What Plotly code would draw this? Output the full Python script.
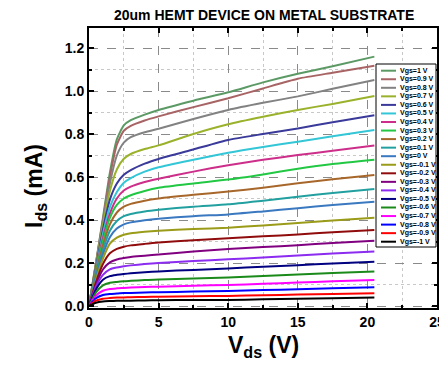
import plotly.graph_objects as go

# ---------------- data ----------------
vds = [0, 0.5, 1, 1.5, 2, 2.5, 3, 4, 5, 7.5, 10, 12.5, 15, 17.5, 20.5]

vgs_labels = ["Vgs=1 V", "Vgs=0.9 V", "Vgs=0.8 V", "Vgs=0.7 V", "Vgs=0.6 V", "Vgs=0.5 V",
              "Vgs=0.4 V", "Vgs=0.3 V", "Vgs=0.2 V", "Vgs=0.1 V", "Vgs=0 V", "Vgs=-0.1 V",
              "Vgs=-0.2 V", "Vgs=-0.3 V", "Vgs=-0.4 V", "Vgs=-0.5 V", "Vgs=-0.6 V", "Vgs=-0.7 V",
              "Vgs=-0.8 V", "Vgs=-0.9 V", "Vgs=-1 V"]

ids_p10 = [0, 0.20, 0.41, 0.62, 0.775, 0.84, 0.864, 0.89, 0.912, 0.955, 0.994, 1.04, 1.08, 1.115, 1.16]
ids_p09 = [0, 0.20, 0.40, 0.60, 0.75, 0.815, 0.838, 0.863, 0.882, 0.925, 0.966, 1.012, 1.057, 1.085, 1.117]
ids_p08 = [0, 0.195, 0.39, 0.57, 0.70, 0.76, 0.785, 0.808, 0.824, 0.87, 0.912, 0.945, 0.975, 1.01, 1.051]
ids_p07 = [0, 0.19, 0.375, 0.535, 0.635, 0.685, 0.707, 0.73, 0.747, 0.80, 0.845, 0.88, 0.912, 0.94, 0.977]
ids_p06 = [0, 0.18, 0.355, 0.495, 0.57, 0.61, 0.632, 0.662, 0.684, 0.728, 0.772, 0.80, 0.826, 0.855, 0.887]
ids_p05 = [0, 0.17, 0.335, 0.46, 0.53, 0.573, 0.595, 0.625, 0.645, 0.68, 0.713, 0.74, 0.764, 0.79, 0.819]
ids_p04 = [0, 0.165, 0.315, 0.43, 0.50, 0.537, 0.555, 0.577, 0.592, 0.625, 0.655, 0.68, 0.702, 0.722, 0.747]
ids_p03 = [0, 0.16, 0.30, 0.41, 0.47, 0.50, 0.515, 0.535, 0.55, 0.57, 0.588, 0.612, 0.638, 0.66, 0.68]
ids_p02 = [0, 0.15, 0.28, 0.38, 0.435, 0.462, 0.475, 0.49, 0.50, 0.517, 0.532, 0.55, 0.571, 0.59, 0.609]
ids_p01 = [0, 0.14, 0.26, 0.35, 0.395, 0.418, 0.428, 0.44, 0.448, 0.462, 0.473, 0.49, 0.508, 0.526, 0.544]
ids_z00 = [0, 0.13, 0.24, 0.32, 0.36, 0.38, 0.389, 0.399, 0.406, 0.418, 0.426, 0.44, 0.455, 0.47, 0.485]
ids_m01 = [0, 0.12, 0.22, 0.29, 0.318, 0.331, 0.338, 0.345, 0.35, 0.358, 0.364, 0.375, 0.386, 0.398, 0.411]
ids_m02 = [0, 0.11, 0.195, 0.245, 0.266, 0.276, 0.282, 0.289, 0.295, 0.306, 0.315, 0.324, 0.333, 0.343, 0.353]
ids_m03 = [0, 0.10, 0.17, 0.203, 0.216, 0.223, 0.228, 0.234, 0.24, 0.253, 0.265, 0.274, 0.283, 0.293, 0.304]
ids_m04 = [0, 0.09, 0.145, 0.17, 0.179, 0.185, 0.189, 0.195, 0.20, 0.209, 0.217, 0.226, 0.235, 0.244, 0.253]
ids_m05 = [0, 0.077, 0.122, 0.139, 0.145, 0.149, 0.152, 0.157, 0.161, 0.168, 0.175, 0.183, 0.19, 0.198, 0.206]
ids_m06 = [0, 0.063, 0.096, 0.108, 0.112, 0.115, 0.117, 0.121, 0.123, 0.128, 0.133, 0.139, 0.146, 0.153, 0.160]
ids_m07 = [0, 0.048, 0.071, 0.079, 0.082, 0.084, 0.086, 0.088, 0.090, 0.094, 0.098, 0.103, 0.109, 0.115, 0.121]
ids_m08 = [0, 0.036, 0.051, 0.056, 0.058, 0.060, 0.061, 0.063, 0.064, 0.067, 0.070, 0.074, 0.078, 0.082, 0.087]
ids_m09 = [0, 0.025, 0.034, 0.037, 0.039, 0.040, 0.041, 0.042, 0.043, 0.045, 0.047, 0.05, 0.053, 0.056, 0.059]
ids_m10 = [0, 0.015, 0.021, 0.023, 0.024, 0.025, 0.025, 0.026, 0.027, 0.028, 0.028, 0.031, 0.034, 0.036, 0.039]

all_ids = [ids_p10, ids_p09, ids_p08, ids_p07, ids_p06, ids_p05, ids_p04, ids_p03, ids_p02, ids_p01,
           ids_z00, ids_m01, ids_m02, ids_m03, ids_m04, ids_m05, ids_m06, ids_m07, ids_m08, ids_m09,
           ids_m10]

colors = ["#5b9a64", "#a86464", "#828282", "#9ab22b", "#3a3a9a", "#33c6d6", "#cc2e8a", "#22c844",
          "#a8672a", "#22a0a0", "#3a78c0", "#9b9b1a", "#900c0c", "#800080", "#8b2cf0", "#000080",
          "#1a8a1a", "#ff00ff", "#0000ff", "#ff0000", "#000000"]

# ---------------- figure ----------------
OFF = 8                      # page body margin
W, H = 447 - OFF, 366 - OFF  # figure size so the page fits the window
L, R, T, B = 89 - OFF, 437 - OFF, 28 - OFF, 308 - OFF
FONT = "Arial, Liberation Sans, sans-serif"

def xp(px):  # screenshot pixel -> paper x
    return (px - OFF - L) / (R - L)

def yp(py):  # screenshot pixel -> paper y
    return (B - (py - OFF)) / (B - T)

fig = go.Figure()
for lab, ys, c in zip(vgs_labels, all_ids, colors):
    fig.add_trace(go.Scatter(x=vds, y=ys, mode="lines", name=lab,
                             line=dict(color=c, width=2, shape="spline", smoothing=0.6),
                             showlegend=False))

axis_common = dict(
    showline=True, linecolor="black", linewidth=2, mirror="allticks",
    ticks="inside", ticklen=5, tickwidth=1.5, tickcolor="black",
    showgrid=True, gridcolor="#8a8a8a", griddash="dash", gridwidth=1,
    zeroline=False, automargin=False,
    tickfont=dict(family=FONT, size=14, color="black", weight="bold"),
)

fig.update_xaxes(range=[0, 25], dtick=5, tick0=0,
                 minor=dict(dtick=2.5, ticks="inside", ticklen=3, tickcolor="black",
                            showgrid=True, gridcolor="#c8c8c8", griddash="dot"),
                 **axis_common)
px_per_unit = 215.0
zero_px = 306 - OFF
fig.update_yaxes(range=[-(B - zero_px) / px_per_unit, (zero_px - T) / px_per_unit],
                 dtick=0.2, tick0=0, tickformat=".1f",
                 minor=dict(dtick=0.1, ticks="inside", ticklen=3, tickcolor="black",
                            showgrid=True, gridcolor="#c8c8c8", griddash="dot"),
                 **axis_common)

# legend (custom, compact)
shapes = [dict(type="rect", xref="paper", yref="paper", x0=xp(376), x1=xp(436),
               y0=yp(247), y1=yp(64), line=dict(color="black", width=1), fillcolor="white",
               layer="above")]
annotations = []
for i, (lab, c) in enumerate(zip(vgs_labels, colors)):
    py = 70.7 + i * 8.55
    shapes.append(dict(type="line", xref="paper", yref="paper", x0=xp(381), x1=xp(396),
                       y0=yp(py), y1=yp(py), line=dict(color=c, width=2), layer="above"))
    annotations.append(dict(xref="paper", yref="paper", x=xp(398), y=yp(py),
                            xanchor="left", yanchor="middle", showarrow=False,
                            text="<b>" + lab + "</b>",
                            font=dict(family=FONT, size=7, color="black")))

# axis titles
annotations.append(dict(xref="paper", yref="paper", x=xp(263), y=yp(346), xanchor="center",
                        yanchor="middle", showarrow=False,
                        text="<b>V<sub>ds</sub> (V)</b>",
                        font=dict(family=FONT, size=23, color="black")))
annotations.append(dict(xref="paper", yref="paper", x=xp(35), y=yp(186), xanchor="center",
                        yanchor="middle", showarrow=False, textangle=-90,
                        text="<b>I<sub>ds</sub> (mA)</b>",
                        font=dict(family=FONT, size=23, color="black")))

# title as annotation so it stays inside the figure
annotations.append(dict(xref="paper", yref="paper", x=xp(264), y=yp(15), xanchor="center",
                        yanchor="middle", showarrow=False,
                        text="<b>20um HEMT DEVICE ON METAL SUBSTRATE</b>",
                        font=dict(family=FONT, size=14, color="black")))

fig.update_layout(
    width=W, height=H,
    margin=dict(l=L, r=W - R, t=T, b=H - B, autoexpand=False),
    paper_bgcolor="white", plot_bgcolor="white",
    shapes=shapes, annotations=annotations, showlegend=False,
)

fig.write_html("out.html")
